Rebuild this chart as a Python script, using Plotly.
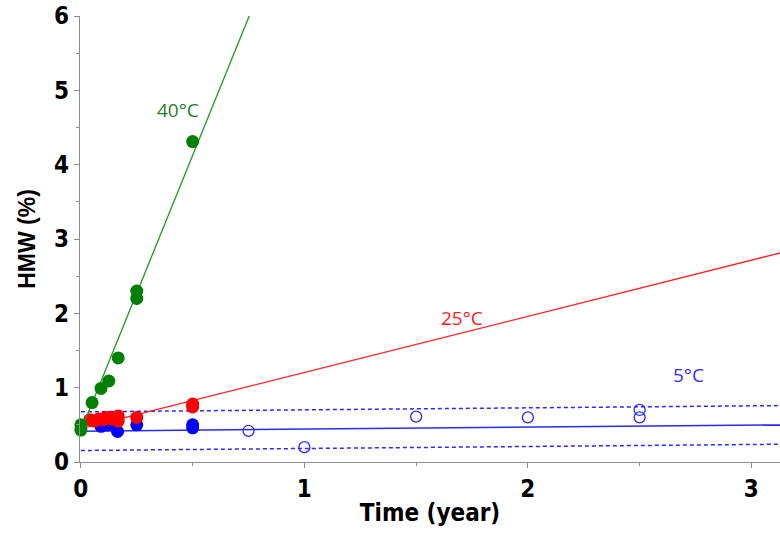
import plotly.graph_objects as go

# Stability data: HMW (%) vs storage time (years) at three temperatures
t40 = [0.0, 0.0, 0.05, 0.09, 0.125, 0.167, 0.25, 0.25, 0.5]
hmw40 = [0.43, 0.50, 0.80, 0.99, 1.09, 1.40, 2.20, 2.30, 4.31]

t25 = [0.04, 0.06, 0.08, 0.10, 0.11, 0.125, 0.14, 0.15, 0.167, 0.167, 0.25, 0.5, 0.5]
hmw25 = [0.57, 0.55, 0.58, 0.57, 0.60, 0.60, 0.58, 0.60, 0.62, 0.55, 0.60, 0.74, 0.78]

t5_early = [0.09, 0.12, 0.164, 0.25, 0.5, 0.5]
hmw5_early = [0.48, 0.50, 0.41, 0.50, 0.46, 0.50]

t5_late = [0.75, 1.0, 1.5, 2.0, 2.5, 2.5]
hmw5_late = [0.42, 0.20, 0.61, 0.60, 0.60, 0.70]

# Fitted lines (end points) and prediction bounds for 5°C
fit_t = [0.0, 3.2]
fit40 = [0.42, 24.13]
fit25 = [0.45, 2.866]
fit5 = [0.415, 0.501]
fit5_upper = [0.675, 0.761]
fit5_lower = [0.155, 0.241]

x_ticks = [0, 1, 2, 3]
y_ticks = [0, 1, 2, 3, 4, 5, 6]

GREEN = "#008000"
RED = "#ff0000"
BLUE = "#0000ff"

fig = go.Figure()

# 5°C: bounds, fit, points
for yb in (fit5_upper, fit5_lower):
    fig.add_trace(go.Scatter(x=fit_t, y=yb, mode="lines",
                             line=dict(color="#2a2aff", width=1.5, dash="4px,3px"),
                             hoverinfo="skip"))
fig.add_trace(go.Scatter(x=fit_t, y=fit5, mode="lines",
                         line=dict(color="#2a2aff", width=1.5)))
fig.add_trace(go.Scatter(x=t5_early, y=hmw5_early, mode="markers", cliponaxis=False,
                         marker=dict(color=BLUE, size=13, line=dict(width=0))))
fig.add_trace(go.Scatter(x=t5_late, y=hmw5_late, mode="markers", cliponaxis=False,
                         marker=dict(symbol="circle-open", color="#2a2aff", size=11,
                                     line=dict(width=1.3))))

# 25°C
fig.add_trace(go.Scatter(x=fit_t, y=fit25, mode="lines",
                         line=dict(color="#ff2020", width=1.3)))
fig.add_trace(go.Scatter(x=t25, y=hmw25, mode="markers", cliponaxis=False,
                         marker=dict(color=RED, size=13, line=dict(width=0))))

# 40°C
fig.add_trace(go.Scatter(x=fit_t, y=fit40, mode="lines",
                         line=dict(color="#1f9a1f", width=1.3)))
fig.add_trace(go.Scatter(x=t40, y=hmw40, mode="markers", cliponaxis=False,
                         marker=dict(color=GREEN, size=13, line=dict(width=0))))

label_font = "Open Sans, Noto Sans, sans-serif"
fig.add_annotation(x=0.435, y=4.74, text="40°C", showarrow=False,
                   font=dict(family=label_font, size=19, color="#1f7f1f"))
fig.add_annotation(x=1.705, y=1.94, text="25°C", showarrow=False,
                   font=dict(family=label_font, size=19, color="#ff2020"))
fig.add_annotation(x=2.72, y=1.17, text="5°C", showarrow=False,
                   font=dict(family=label_font, size=19, color="#3030ff"))

tick_font = dict(family="Liberation Sans Narrow, Arial Narrow, DejaVu Sans Condensed, Liberation Sans",
                 size=24, color="black")
axis_common = dict(
    showgrid=False, zeroline=False, showline=True, linecolor="#8c8c8c", linewidth=1.2,
    ticks="outside", ticklen=5, tickcolor="#8c8c8c", tickwidth=1.2,
    tickfont=tick_font,
)

fig.update_layout(
    width=780, height=534,
    margin=dict(l=80, r=0, t=16, b=72),
    paper_bgcolor="white", plot_bgcolor="white",
    showlegend=False,
    xaxis=dict(range=[-0.004, 3.128], tickvals=x_ticks,
               ticktext=[f"<b>{v}</b>" for v in x_ticks],
               minor=dict(dtick=0.5, ticklen=3, tickcolor="#8c8c8c", ticks="outside"),
               title=dict(text="<b>Time (year)</b>", font=tick_font, standoff=2),
               **axis_common),
    yaxis=dict(range=[0, 6], tickvals=y_ticks,
               ticktext=[f"<b>{v}</b>" for v in y_ticks],
               minor=dict(dtick=0.5, ticklen=3, tickcolor="#8c8c8c", ticks="outside"),
               title=dict(text="<b>HMW (%)</b>",
                          font=dict(family="Liberation Sans, Arial", size=23, color="black"),
                          standoff=12),
               **axis_common),
)

fig.write_html("out.html")
